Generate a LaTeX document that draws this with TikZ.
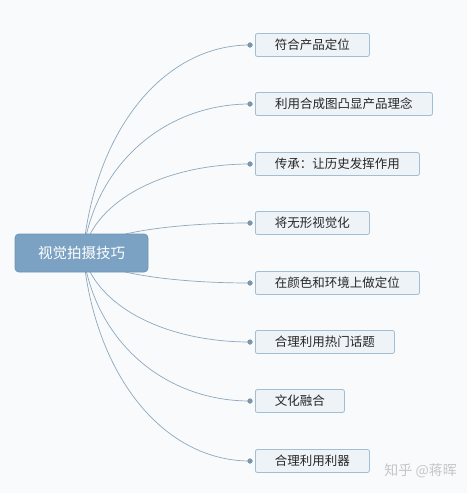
\documentclass[tikz,border=0pt]{standalone}
\usepackage{fontspec}
\newfontfamily\cjk{Noto Sans CJK SC}
\definecolor{bgc}{HTML}{F8FAFB}
\definecolor{rootfill}{HTML}{7BA2C2}
\definecolor{rootdraw}{HTML}{6F95B5}
\definecolor{kidfill}{HTML}{EEF3F8}
\definecolor{kiddraw}{HTML}{A3BDD2}
\definecolor{linec}{HTML}{8EA8BE}
\definecolor{dotc}{HTML}{7C96AC}
\definecolor{markc}{HTML}{C4C6C8}
\tikzset{
  rootbox/.style={draw=rootdraw, fill=rootfill, rounded corners=4pt, line width=0.8pt,
    minimum width=133pt, minimum height=38pt, inner sep=0pt,
    text=white, font=\cjk\fontsize{14.5}{17}\selectfont},
  kidbox/.style={draw=kiddraw, fill=kidfill, rounded corners=2pt, line width=0.8pt,
    minimum height=23pt, inner sep=0pt, anchor=west,
    text=black!85, font=\cjk\fontsize{12.5}{15}\selectfont},
  kdot/.style={circle, fill=dotc, inner sep=0pt, minimum size=5pt},
  conn/.style={draw=linec, line width=0.7pt}
}
\begin{document}
\begin{tikzpicture}[x=1pt, y=-1pt]
\fill[bgc] (0,0) rectangle (467,493);
\useasboundingbox (0,0) rectangle (467,493);
\coordinate (hub) at (83,253);
% child boxes
\node[kidbox, minimum width=114pt] (k1) at (255,45) {符合产品定位};
\node[kidbox, minimum width=177pt] (k2) at (255,104) {利用合成图凸显产品理念};
\node[kidbox, minimum width=164pt] (k3) at (255,164) {传承：让历史发挥作用};
\node[kidbox, minimum width=114pt] (k4) at (255,223) {将无形视觉化};
\node[kidbox, minimum width=164pt] (k5) at (255,283) {在颜色和环境上做定位};
\node[kidbox, minimum width=139pt] (k6) at (255,342) {合理利用热门话题};
\node[kidbox, minimum width=89pt] (k7) at (255,401) {文化融合};
\node[kidbox, minimum width=114pt] (k8) at (255,461) {合理利用利器};
% dots
\node[kdot] (d1) at (250,45) {};
\node[kdot] (d2) at (250,104) {};
\node[kdot] (d3) at (250,164) {};
\node[kdot] (d4) at (250,223) {};
\node[kdot] (d5) at (250,283) {};
\node[kdot] (d6) at (250,342) {};
\node[kdot] (d7) at (250,401) {};
\node[kdot] (d8) at (250,461) {};
% connectors
\draw[conn] (hub) .. controls +(12,-125) and +(-85,0) .. (d1.center);
\draw[conn] (hub) .. controls +(12,-89) and +(-85,0) .. (d2.center);
\draw[conn] (hub) .. controls +(12,-53) and +(-85,0) .. (d3.center);
\draw[conn] (hub) .. controls +(12,-18) and +(-85,0) .. (d4.center);
\draw[conn] (hub) .. controls +(12,18) and +(-85,0) .. (d5.center);
\draw[conn] (hub) .. controls +(12,53) and +(-85,0) .. (d6.center);
\draw[conn] (hub) .. controls +(12,89) and +(-85,0) .. (d7.center);
\draw[conn] (hub) .. controls +(12,125) and +(-85,0) .. (d8.center);
% redraw dots on top
\foreach \i in {1,...,8} \fill[dotc] (d\i) circle (2.5pt);
% root
\node[rootbox] (root) at (81.5,253) {视觉拍摄技巧};
% watermark
\node[text=markc, font=\cjk\fontsize{14}{16}\selectfont, anchor=east, inner sep=0pt] (wm) at (457,471) {知乎 @蒋晖};
\end{tikzpicture}
\end{document}
